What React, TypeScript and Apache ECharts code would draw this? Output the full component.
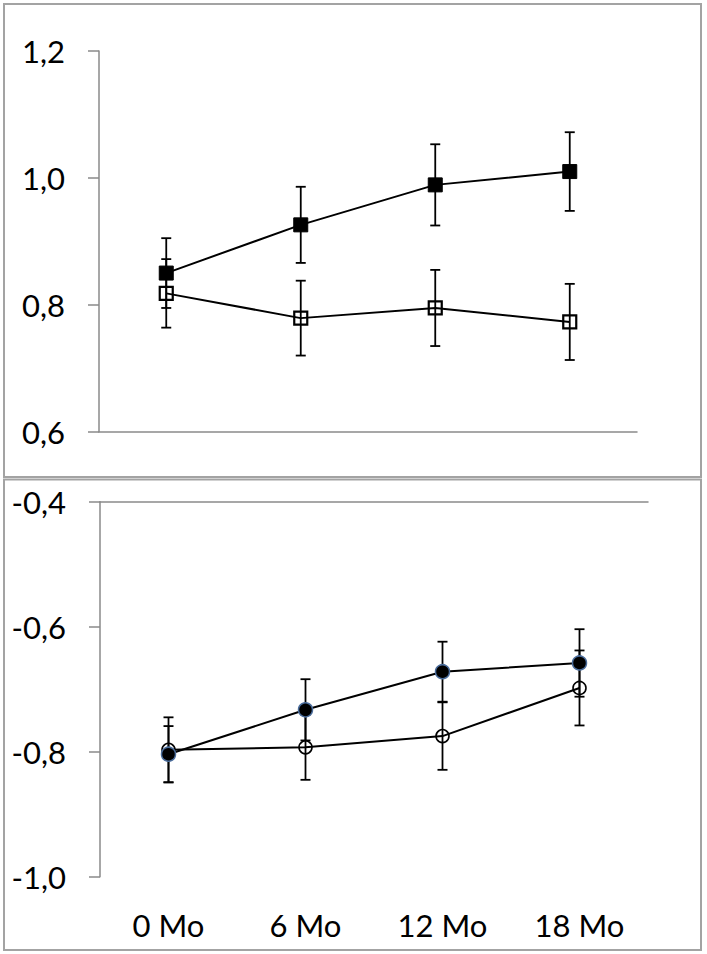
import React, { useEffect, useRef } from "react";
import * as echarts from "echarts";

const categories = ["0 Mo", "6 Mo", "12 Mo", "18 Mo"];

const topFilled = [0.85, 0.926, 0.989, 1.01];
const topFilledErr = [0.055, 0.06, 0.064, 0.062];
const topOpen = [0.818, 0.779, 0.795, 0.773];
const topOpenErr = [0.054, 0.059, 0.06, 0.06];

const botFilled = [-0.804, -0.733, -0.672, -0.658];
const botFilledErr = [0.045, 0.049, 0.048, 0.054];
const botOpen = [-0.797, -0.793, -0.775, -0.698];
const botOpenErr = [0.052, 0.052, 0.054, 0.06];

const topRange = { min: 0.6, max: 1.2, interval: 0.2 };
const botRange = { min: -1.0, max: -0.4, interval: 0.2 };

const FONT = "Lato";
const AXIS_GRAY = "#8a8a8a";

function errData(vals: number[], errs: number[]) {
  return vals.map((v, i) => [i, v - errs[i], v + errs[i]]);
}

function errorSeries(vals: number[], errs: number[], xi: number, yi: number) {
  return {
    type: "custom",
    xAxisIndex: xi,
    yAxisIndex: yi,
    z: 5,
    silent: true,
    encode: { x: 0, y: [1, 2] },
    data: errData(vals, errs),
    renderItem: (params: any, api: any) => {
      const x = api.value(0);
      const lo = api.value(1);
      const hi = api.value(2);
      const p1 = api.coord([x, hi]);
      const p2 = api.coord([x, lo]);
      const w = 5;
      const st = { stroke: "#000", lineWidth: 1.8 };
      return {
        type: "group",
        children: [
          { type: "line", shape: { x1: p1[0], y1: p1[1], x2: p2[0], y2: p2[1] }, style: st },
          { type: "line", shape: { x1: p1[0] - w, y1: p1[1], x2: p1[0] + w, y2: p1[1] }, style: st },
          { type: "line", shape: { x1: p2[0] - w, y1: p2[1], x2: p2[0] + w, y2: p2[1] }, style: st },
        ],
      };
    },
  };
}

const fmt = (v: number) => v.toFixed(1).replace(".", ",");

export default function App() {
  const ref = useRef<HTMLDivElement>(null);
  useEffect(() => {
    document.body.style.margin = "0";
    const chart = echarts.init(ref.current!, null, { renderer: "svg" });
    const yAxisCommon = {
      type: "value",
      axisLine: { show: true, lineStyle: { color: AXIS_GRAY, width: 1.5 } },
      axisTick: { show: true, inside: false, length: 11, lineStyle: { color: AXIS_GRAY, width: 1.5 } },
      splitLine: { show: false },
      axisLabel: {
        margin: 34,
        color: "#000",
        fontFamily: FONT,
        fontSize: 31,
        formatter: fmt,
      },
    };
    chart.setOption({
      animation: false,
      backgroundColor: "#fff",
      graphic: [
        {
          type: "rect",
          shape: { x: 4, y: 4, width: 697, height: 473 },
          style: { fill: "none", stroke: "#a3a3a3", lineWidth: 2 },
          silent: true,
        },
        {
          type: "rect",
          shape: { x: 4, y: 479.5, width: 697, height: 470.5 },
          style: { fill: "none", stroke: "#a3a3a3", lineWidth: 2 },
          silent: true,
        },
      ],
      grid: [
        { left: 99, top: 51, width: 538, height: 380.7 },
        { left: 100, top: 501.7, width: 548, height: 375 },
      ],
      xAxis: [
        {
          type: "category",
          gridIndex: 0,
          data: categories,
          boundaryGap: true,
          axisLine: { show: true, lineStyle: { color: AXIS_GRAY, width: 1.5 } },
          axisTick: { show: false },
          axisLabel: { show: false },
          splitLine: { show: false },
        },
        {
          type: "category",
          gridIndex: 1,
          position: "top",
          data: categories,
          boundaryGap: true,
          axisLine: { show: true, onZero: false, lineStyle: { color: AXIS_GRAY, width: 1.5 } },
          axisTick: { show: false },
          axisLabel: { show: false },
          splitLine: { show: false },
        },
        {
          type: "category",
          gridIndex: 1,
          position: "bottom",
          data: categories,
          boundaryGap: true,
          axisLine: { show: false, onZero: false },
          axisTick: { show: false },
          axisLabel: {
            show: true,
            margin: 33,
            color: "#000",
            fontFamily: FONT,
            fontSize: 31,
            interval: 0,
          },
          splitLine: { show: false },
        },
      ],
      yAxis: [
        { ...yAxisCommon, gridIndex: 0, ...topRange },
        { ...yAxisCommon, gridIndex: 1, ...botRange },
      ],
      series: [
        {
          type: "line",
          xAxisIndex: 0,
          yAxisIndex: 0,
          data: topFilled,
          symbol: "rect",
          symbolSize: 14,
          z: 3,
          lineStyle: { color: "#000", width: 2 },
          itemStyle: { color: "#000", borderColor: "#000", borderWidth: 1 },
        },
        {
          type: "line",
          xAxisIndex: 0,
          yAxisIndex: 0,
          data: topOpen,
          symbol: "rect",
          symbolSize: 13,
          z: 3,
          lineStyle: { color: "#000", width: 2 },
          itemStyle: { color: "transparent", borderColor: "#000", borderWidth: 2.2 },
        },
        errorSeries(topFilled, topFilledErr, 0, 0),
        errorSeries(topOpen, topOpenErr, 0, 0),
        {
          type: "line",
          xAxisIndex: 2,
          yAxisIndex: 1,
          data: botOpen,
          symbol: "circle",
          symbolSize: 13,
          z: 3,
          lineStyle: { color: "#000", width: 2 },
          itemStyle: { color: "transparent", borderColor: "#000", borderWidth: 1.6 },
        },
        errorSeries(botOpen, botOpenErr, 2, 1),
        errorSeries(botFilled, botFilledErr, 2, 1),
        {
          type: "line",
          xAxisIndex: 2,
          yAxisIndex: 1,
          data: botFilled,
          symbol: "circle",
          symbolSize: 14,
          z: 6,
          lineStyle: { color: "#000", width: 2 },
          itemStyle: { color: "#000", borderColor: "#4a6c9b", borderWidth: 1.5 },
        },
      ],
    });
    return () => chart.dispose();
  }, []);
  return <div ref={ref} style={{ width: 707, height: 954 }} />;
}
